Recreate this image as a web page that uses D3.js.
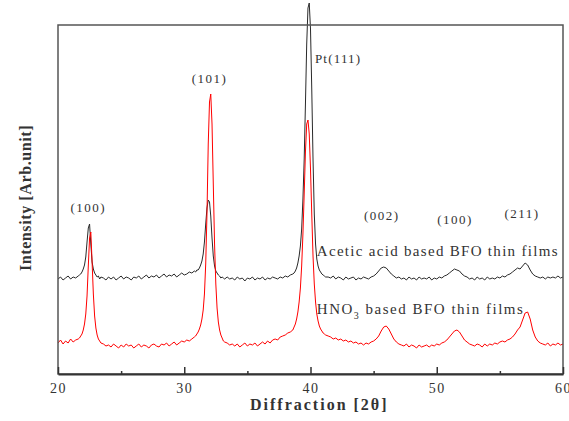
<!DOCTYPE html>
<html><head><meta charset="utf-8">
<script src="https://cdn.jsdelivr.net/npm/d3@7"></script>
<style>body{margin:0;background:#fff}svg{display:block}</style>
</head><body><svg id="chart" width="569" height="421"></svg>
<script>
// 2θ sampling points (degrees)
const twoTheta = [
  20.0,20.2,20.4,20.6,20.8,21.0,21.2,21.4,21.6,
  21.7,21.8,21.9,22.0,22.1,22.2,22.3,22.4,22.5,22.6,22.7,22.8,22.9,23.0,23.1,23.2,23.3,23.4,
  23.6,23.8,24.0,24.2,24.4,24.6,24.8,25.0,25.2,25.4,25.6,25.8,26.0,26.2,26.4,26.6,26.8,27.0,27.2,27.4,27.6,27.8,28.0,28.2,28.4,28.6,28.8,29.0,29.2,29.4,29.6,29.8,30.0,30.2,30.4,30.6,30.8,
  30.9,31.0,31.1,31.2,31.3,31.4,31.5,31.6,31.7,31.8,31.9,32.0,32.1,32.2,32.3,32.4,32.5,32.6,32.7,32.8,32.9,33.0,33.1,33.2,
  33.4,33.6,33.8,34.0,34.2,34.4,34.6,34.8,35.0,35.2,35.4,35.6,35.8,36.0,36.2,36.4,36.6,36.8,37.0,37.2,37.4,37.6,37.8,38.0,38.2,38.4,38.6,
  38.7,38.8,38.9,39.0,39.1,39.2,39.3,39.4,39.5,39.6,39.7,39.8,39.9,40.0,40.1,40.2,40.3,40.4,40.5,40.6,40.7,40.8,40.9,41.0,41.1,41.2,
  41.4,41.6,41.8,42.0,42.2,42.4,42.6,42.8,43.0,43.2,
  43.4,43.6,43.8,44.0,44.2,44.4,44.6,44.8,45.0,45.2,
  45.4,45.6,45.8,46.0,46.2,46.4,46.6,46.8,47.0,47.2,
  47.4,47.6,47.8,48.0,48.2,48.4,48.6,48.8,49.0,49.2,
  49.4,49.6,49.8,50.0,50.2,50.4,50.6,50.8,51.0,51.2,
  51.4,51.6,51.8,52.0,52.2,52.4,52.6,52.8,53.0,53.2,
  53.4,53.6,53.8,54.0,54.2,54.4,54.6,54.8,55.0,55.2,
  55.4,55.6,55.8,56.0,56.2,56.4,56.6,56.8,57.0,57.2,
  57.4,57.6,57.8,58.0,58.2,58.4,58.6,58.8,59.0,59.2,
  59.4,59.6,59.8,60.0
];

// Acetic acid based BFO thin films (arb. units)
const aceticIntensity = [
  95,97,94,96,98,95,97,96,98,
  99,100,102,105,109,117,132,146,150,130,112,105,101,99,97,98,95,97,
  96,94,97,95,97,94,96,98,95,97,96,94,97,96,98,95,97,99,96,98,97,99,96,98,100,97,99,98,100,97,99,101,99,100,102,101,103,
  102,104,104,106,109,113,120,132,150,166,174,172,158,136,118,108,103,101,99,98,96,97,96,95,
  97,95,96,94,97,95,96,93,96,95,97,94,96,95,97,94,96,95,97,96,95,97,96,98,97,99,100,
  101,103,106,111,118,128,145,175,215,270,330,366,371,345,285,215,160,130,115,108,104,102,100,99,98,97,
  97,96,98,95,97,96,94,97,95,96,
  97,94,96,95,97,96,95,97,98,100,
  103,106,107,106,103,100,98,96,97,95,
  96,94,97,95,96,94,97,95,96,95,
  97,94,96,95,97,96,98,99,101,103,
  105,104,103,100,98,97,95,96,94,97,
  95,96,94,97,95,96,95,97,96,98,
  97,99,100,102,104,106,105,108,111,109,
  104,100,98,97,96,97,95,97,96,97,
  96,98,96,97
];

// HNO3 based BFO thin films (arb. units)
const hno3Intensity = [
  31,34,30,33,31,35,32,34,35,
  36,38,40,44,50,60,78,108,136,142,112,80,58,46,39,35,33,31,
  30,28,29,27,30,28,26,29,27,30,28,29,26,28,30,27,29,28,26,29,30,28,27,30,29,31,28,30,32,29,31,33,32,34,33,35,37,
  38,40,42,45,49,55,64,80,110,160,230,272,280,250,190,130,90,66,52,44,39,36,33,32,
  31,29,30,28,30,27,29,31,28,30,29,31,28,30,32,30,33,31,34,35,34,37,38,39,41,42,44,
  47,50,55,62,72,86,108,140,180,222,250,254,240,205,160,118,90,72,60,53,48,45,43,41,40,39,
  38,37,35,36,34,35,33,34,32,33,
  31,32,30,31,29,31,30,32,33,35,
  38,43,47,48,45,40,35,32,30,29,
  28,30,27,29,28,26,29,27,28,29,
  27,29,28,30,29,31,32,34,37,40,
  43,44,42,38,34,32,30,29,28,30,
  29,27,30,28,30,29,31,30,32,33,
  32,34,35,37,40,44,47,54,61,62,
  55,44,37,33,31,30,29,31,28,30,
  29,31,29,30
];

const xTicks = [20, 30, 40, 50, 60];
const xMinorTicks = [25, 35, 45, 55];

const peakLabels = ["(100)", "(101)", "Pt(111)", "(002)", "(100)", "(211)"];
const peakLabelTheta = [22.4, 32.0, 40.35, 45.65, 51.45, 56.75];
const peakLabelIntensity = [162, 291, 311, 154, 150, 156];

const seriesNames = ["Acetic acid based BFO thin films", "HNO3 based BFO thin films"];
const seriesLabelTheta = [40.5, 40.5];
const seriesLabelIntensity = [118, 60];

const svg = d3.select("#chart");
const x = d3.scaleLinear().domain([20, 60]).range([58, 563]);
const y = d3.scaleLinear().domain([0, 349]).range([374, 25]);
const serif = "Liberation Serif";

const line = d3.line().x((d, i) => x(twoTheta[i])).y(d => y(d));

svg.append("path").datum(aceticIntensity)
  .attr("d", line).attr("fill", "none")
  .attr("stroke", "#2a2a2a").attr("stroke-width", 1).attr("stroke-linejoin", "round");
svg.append("path").datum(hno3Intensity)
  .attr("d", line).attr("fill", "none")
  .attr("stroke", "#ff0000").attr("stroke-width", 1).attr("stroke-linejoin", "round");

// frame
svg.append("rect").attr("x", 58).attr("y", 25).attr("width", 505).attr("height", 349)
  .attr("fill", "none").attr("stroke", "#555").attr("stroke-width", 1.5);

// bottom axis
const gx = svg.append("g").attr("transform", "translate(0,374)")
  .call(d3.axisBottom(x).tickValues(xTicks).tickSizeInner(-7).tickSizeOuter(0).tickPadding(14).tickFormat(d3.format("d")))
  .attr("font-family", serif).attr("font-size", 14);
gx.select(".domain").attr("stroke", "#333").attr("stroke-width", 2);
gx.selectAll(".tick line").attr("stroke", "#333").attr("stroke-width", 1.5);
gx.selectAll(".tick text").style("font-family", serif).style("font-size", "14px")
  .attr("fill", "#333").attr("letter-spacing", 1.5).attr("dy", "0.35em");

const gm = svg.append("g").attr("transform", "translate(0,374)")
  .call(d3.axisBottom(x).tickValues(xMinorTicks).tickSizeInner(-3).tickSizeOuter(0).tickFormat(""));
gm.select(".domain").remove();
gm.selectAll(".tick line").attr("stroke", "#333").attr("stroke-width", 1.5);

// axis titles
svg.append("text").attr("x", 250).attr("y", 410)
  .style("font-family", serif).attr("font-weight", "bold").attr("font-size", 16)
  .attr("letter-spacing", 2).attr("fill", "#333").text("Diffraction [2θ]");
svg.append("text").attr("transform", "translate(31,198) rotate(-90)")
  .attr("text-anchor", "middle")
  .style("font-family", serif).attr("font-weight", "bold").attr("font-size", 16)
  .attr("letter-spacing", 0.6).attr("fill", "#333").text("Intensity [Arb.unit]");

// peak labels
svg.selectAll("text.peak").data(peakLabels).enter().append("text")
  .attr("class", "peak")
  .attr("x", (d, i) => x(peakLabelTheta[i]))
  .attr("y", (d, i) => y(peakLabelIntensity[i]))
  .attr("text-anchor", (d, i) => i === 2 ? "start" : "middle")
  .style("font-family", serif).attr("font-size", 13)
  .attr("letter-spacing", (d, i) => i === 2 ? 1.2 : 1.5)
  .attr("fill", "#333").text(d => d);

// series labels
svg.append("text")
  .attr("x", x(seriesLabelTheta[0])).attr("y", y(seriesLabelIntensity[0]))
  .style("font-family", serif).attr("font-size", 15).attr("letter-spacing", 1.3)
  .attr("fill", "#333").text(seriesNames[0]);
const t2 = svg.append("text")
  .attr("x", x(seriesLabelTheta[1])).attr("y", y(seriesLabelIntensity[1]))
  .style("font-family", serif).attr("font-size", 15).attr("letter-spacing", 1.5)
  .attr("fill", "#333");
t2.append("tspan").text("HNO");
t2.append("tspan").attr("font-size", 10).attr("dy", 5).text("3");
t2.append("tspan").attr("dy", -5).text(" based BFO thin films");
</script></body></html>
